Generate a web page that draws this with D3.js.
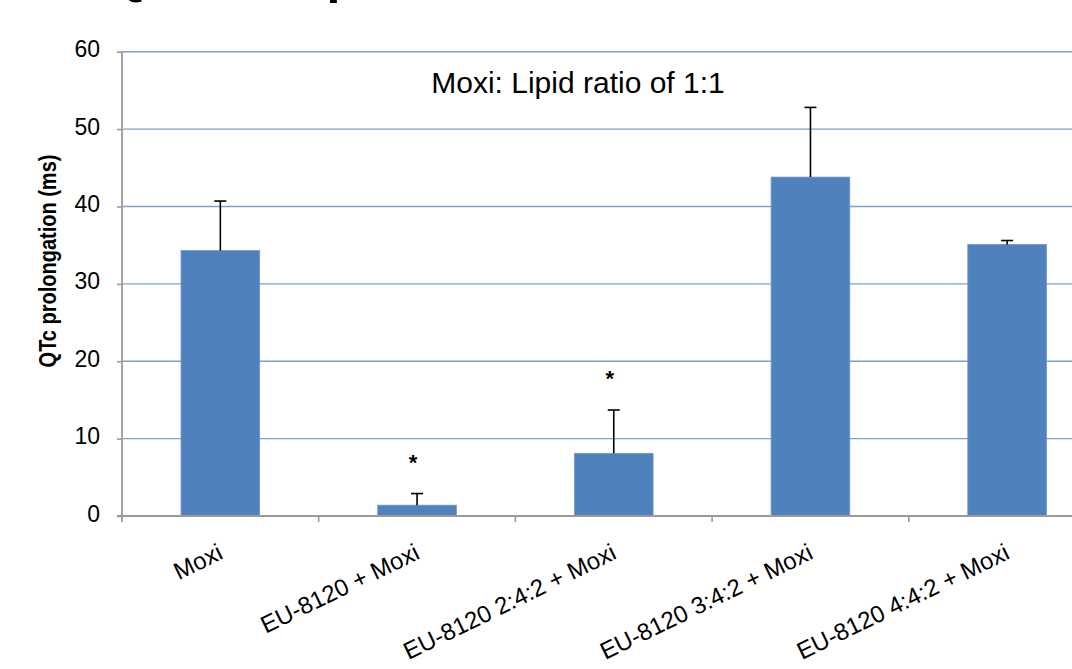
<!DOCTYPE html>
<meta charset="utf-8">
<html>
<head>
  <meta charset="utf-8">
  <title>QTc prolongation</title>
</head>
<style>
  body { margin: 0; background: #fff; }
  svg { display: block; font-family: "Liberation Sans", Arial, sans-serif; }
  .grid line { stroke: #7ba0d2; stroke-width: 1.4px; }
  .err { stroke: #000; stroke-width: 1.6px; }
</style>
<body>
<svg width="1072" height="669"></svg>
<script src="https://d3js.org/d3.v7.min.js"></script>
<script>

// data
var categories = ["Moxi", "EU-8120 + Moxi", "EU-8120 2:4:2 + Moxi", "EU-8120 3:4:2 + Moxi", "EU-8120 4:4:2 + Moxi"];
var means = [34.3, 1.4, 8.1, 43.8, 35.1];
var errors = [6.4, 1.5, 5.6, 9.0, 0.5];
var significant = [false, true, true, false, false];
var yTicks = [0, 10, 20, 30, 40, 50, 60];

var svg = d3.select("svg"),
    width = +svg.attr("width"),
    height = +svg.attr("height");

var axisX = 122, axisY = 516, topY = 51.7;
var step = 196.7;

var x = d3.scaleBand()
    .domain(categories)
    .range([axisX, axisX + step * categories.length])
    .paddingInner(0.6)
    .paddingOuter(0.3);

var y = d3.scaleLinear()
    .domain([0, 60])
    .range([axisY, topY]);

// heading, mostly above the top edge of the picture
svg.append("text")
    .attr("x", 108)
    .attr("y", -7)
    .style("font-size", "50px")
    .attr("font-weight", "bold")
    .attr("fill", "#000")
    .text("QTc Comparison");

// gridlines
svg.append("g")
    .attr("class", "grid")
  .selectAll("line")
  .data(yTicks.filter(function(d) { return d > 0; }))
  .enter().append("line")
    .attr("x1", axisX)
    .attr("x2", width)
    .attr("y1", function(d) { return y(d); })
    .attr("y2", function(d) { return y(d); });

// bars
svg.append("g")
  .selectAll("rect")
  .data(means)
  .enter().append("rect")
    .attr("x", function(d, i) { return x(categories[i]); })
    .attr("y", function(d) { return y(d); })
    .attr("width", x.bandwidth())
    .attr("height", function(d) { return y(0) - y(d); })
    .attr("fill", "#4f81bd")
    .attr("stroke", "#6f98cc")
    .attr("stroke-width", 0.8);

// error bars (upper only)
var eb = svg.append("g").selectAll("g")
  .data(means)
  .enter().append("g");

eb.append("line")
    .attr("class", "err")
    .attr("x1", function(d, i) { return x(categories[i]) + x.bandwidth() / 2; })
    .attr("x2", function(d, i) { return x(categories[i]) + x.bandwidth() / 2; })
    .attr("y1", function(d) { return y(d); })
    .attr("y2", function(d, i) { return y(d + errors[i]); });

eb.append("line")
    .attr("class", "err")
    .attr("x1", function(d, i) { return x(categories[i]) + x.bandwidth() / 2 - 6; })
    .attr("x2", function(d, i) { return x(categories[i]) + x.bandwidth() / 2 + 6; })
    .attr("y1", function(d, i) { return y(d + errors[i]); })
    .attr("y2", function(d, i) { return y(d + errors[i]); });

// significance stars
svg.append("g")
  .selectAll("text")
  .data(means.map(function(d, i) { return {v: d + errors[i], sig: significant[i], c: categories[i]}; })
    .filter(function(d) { return d.sig; }))
  .enter().append("text")
    .attr("x", function(d) { return x(d.c) + x.bandwidth() / 2 - 4; })
    .attr("y", function(d) { return y(d.v) - 24; })
    .attr("text-anchor", "middle")
    .style("font-size", "22px")
    .attr("font-weight", "bold")
    .attr("fill", "#000")
    .text("*");

// y axis
var yAxis = svg.append("g")
    .attr("transform", "translate(" + axisX + ",0)")
    .call(d3.axisLeft(y).tickValues(yTicks).tickSize(5).tickPadding(17).tickSizeOuter(0));
yAxis.select(".domain").remove();
yAxis.selectAll(".tick line").attr("stroke", "#9a9a9a").attr("stroke-width", 1.6);
yAxis.selectAll(".tick text")
    .style("font-size", "23px")
    .style("font-family", "Liberation Sans, Arial, sans-serif")
    .attr("fill", "#000")
    .attr("dy", "0.22em");
yAxis.append("line")
    .attr("x1", 0).attr("x2", 0)
    .attr("y1", topY).attr("y2", axisY + 6)
    .attr("stroke", "#9a9a9a").attr("stroke-width", 1.8);

// x axis
var xg = svg.append("g");
xg.append("line")
    .attr("x1", axisX - 5).attr("x2", width)
    .attr("y1", axisY).attr("y2", axisY)
    .attr("stroke", "#9a9a9a").attr("stroke-width", 1.8);
xg.selectAll(".sep")
  .data(categories.slice(1))
  .enter().append("line")
    .attr("class", "sep")
    .attr("x1", function(d) { return x(d) - x.step() * 0.3; })
    .attr("x2", function(d) { return x(d) - x.step() * 0.3; })
    .attr("y1", axisY).attr("y2", axisY + 6)
    .attr("stroke", "#9a9a9a").attr("stroke-width", 1.6);

xg.selectAll(".lab")
  .data(categories)
  .enter().append("text")
    .attr("class", "lab")
    .attr("text-anchor", "end")
    .style("font-size", "24px")
    .attr("fill", "#000")
    .attr("transform", function(d) {
      return "translate(" + (x(d) + x.bandwidth() / 2 + 4) + "," + 558 + ") rotate(-26)";
    })
    .text(function(d) { return d; });

// y axis title (slightly widened, as in the source picture)
svg.append("text")
    .attr("transform", "translate(56,261) scale(1.18,1) rotate(-90)")
    .attr("text-anchor", "middle")
    .style("font-size", "20px")
    .attr("font-weight", "bold")
    .attr("fill", "#000")
    .text("QTc prolongation (ms)");

// chart subtitle
svg.append("text")
    .attr("x", 578)
    .attr("y", 93)
    .attr("text-anchor", "middle")
    .style("font-size", "30px")
    .attr("fill", "#000")
    .text("Moxi: Lipid ratio of 1:1");

</script>
</body>
</html>
